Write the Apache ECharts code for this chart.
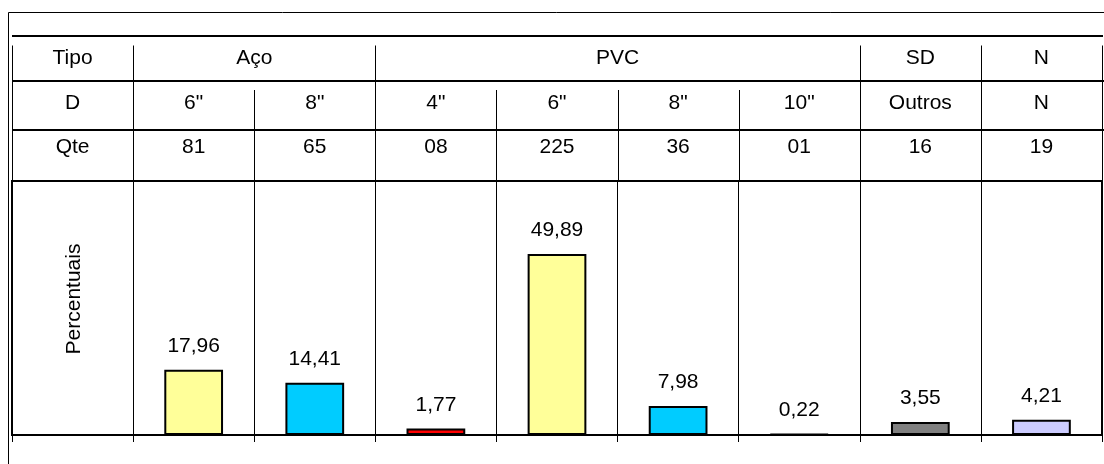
<!DOCTYPE html>
<html>
<head>
<meta charset="utf-8">
<title>Percentuais por tipo e diâmetro</title>
<script src="https://cdn.jsdelivr.net/npm/echarts@6/dist/echarts.min.js"></script>
<style>
  html, body { margin: 0; padding: 0; background: #ffffff; }
  #chart { width: 1104px; height: 464px; }
</style>
</head>
<body>
<div id="chart"></div>
<script>
// Material groups (Tipo) and how many diameter columns each one spans
const tipoNomes = ['Aço', 'PVC', 'SD', 'N'];
const tipoSpans = [2, 4, 1, 1];
// Diameter row (D)
const diametros = ['6"', '8"', '4"', '6"', '8"', '10"', 'Outros', 'N'];
// Quantity row (Qte), kept as printed
const quantidades = ['81', '65', '08', '225', '36', '01', '16', '19'];
// Percentages drawn as bars
const percentuais = [17.96, 14.41, 1.77, 49.89, 7.98, 0.22, 3.55, 4.21];
// Fill colour of each bar
const coresBarras = ['#FFFF99', '#00CCFF', '#FF0000', '#FFFF99', '#00CCFF', '#000000', '#808080', '#CCCCFF'];
// Row titles of the header table and the value axis title
const rotulosLinhas = ['Tipo', 'D', 'Qte'];
const tituloValores = 'Percentuais';

const FONT = '"Liberation Sans", Arial, Helvetica, sans-serif';
const FONT_SIZE = 21;

// One category per table column: first column holds the row titles
const categorias = ['rotulo'].concat(diametros.map((d, i) => 'c' + i));
const valoresSerie = ['-'].concat(percentuais.map((v, i) => ({
  value: v,
  itemStyle: { color: coresBarras[i] }
})));

const chart = echarts.init(document.getElementById('chart'), null, { renderer: 'canvas' });

const option = {
  animation: false,
  backgroundColor: '#ffffff',
  grid: {
    left: 12, right: 2, top: 181, bottom: 29,
    show: true, borderColor: '#000000', borderWidth: 2,
    containLabel: false
  },
  xAxis: {
    type: 'category',
    data: categorias,
    boundaryGap: true,
    axisLine: { show: true, lineStyle: { color: '#000000', width: 2 } },
    axisTick: { show: true, length: 7, lineStyle: { color: '#000000', width: 1 } },
    axisLabel: { show: false },
    splitLine: { show: true, lineStyle: { color: '#000000', width: 1 } }
  },
  yAxis: {
    type: 'value',
    min: 0,
    max: 70,
    axisLine: { show: false },
    axisTick: { show: false },
    axisLabel: { show: false },
    splitLine: { show: false }
  },
  series: [{
    type: 'bar',
    data: valoresSerie,
    barWidth: '48.5%',
    itemStyle: { borderColor: '#000000', borderWidth: 2 },
    label: {
      show: true,
      position: 'top',
      distance: 13,
      color: '#000000',
      fontFamily: FONT,
      fontSize: FONT_SIZE,
      formatter: p => p.value.toFixed(2).replace('.', ',')
    }
  }]
};

chart.setOption(option);

// Header table above the plot, aligned with the category bands
function desenharTabela() {
  const x0 = chart.convertToPixel({ xAxisIndex: 0 }, 0);
  const x1 = chart.convertToPixel({ xAxisIndex: 0 }, 1);
  const banda = x1 - x0;
  const borda = k => x0 - banda / 2 + k * banda;   // column boundary k (0..9)
  const centro = i => x0 + i * banda;              // column centre i (0..8)
  const nCols = categorias.length;

  const yTopo = 36, yLinha1 = 81, yLinha2 = 130, yPlot = 181;
  const yTexto = [58, 103.5, 147];
  const els = [];

  // Outer frame, wider than the canvas so only its top and left edges show
  els.push({
    type: 'rect', silent: true,
    shape: { x: 8.5, y: 12.5, width: 1200, height: 600 },
    style: { fill: null, stroke: '#000000', lineWidth: 1 }
  });

  // Horizontal rules of the table
  [[yTopo, borda(nCols) + 1], [yLinha1, 1104], [yLinha2, 1104]].forEach(([y, xf]) => {
    els.push({
      type: 'line', silent: true,
      shape: { x1: borda(0), y1: y, x2: xf, y2: y },
      style: { stroke: '#000000', lineWidth: 2 }
    });
  });

  // Vertical rules: group boundaries start in the Tipo row, the rest in the D row
  const limitesGrupo = [0, 1];
  let acc = 1;
  tipoSpans.forEach(s => { acc += s; limitesGrupo.push(acc); });
  for (let k = 0; k <= nCols; k++) {
    const inicio = limitesGrupo.includes(k) ? yTopo + 9.5 : yLinha1 + 9;
    const x = Math.round(borda(k)) + 0.5;
    els.push({
      type: 'line', silent: true,
      shape: { x1: x, y1: inicio, x2: x, y2: yPlot },
      style: { stroke: '#000000', lineWidth: 1 }
    });
  }

  const texto = (t, x, y, rot) => ({
    type: 'text', silent: true,
    x: x, y: y, rotation: rot || 0,
    style: {
      text: t, fill: '#000000',
      font: FONT_SIZE + 'px ' + FONT,
      align: 'center', verticalAlign: 'middle'
    }
  });

  // Row titles
  rotulosLinhas.forEach((r, j) => els.push(texto(r, centro(0), yTexto[j])));

  // Tipo row: one label per group, centred over its span
  let col = 1;
  tipoNomes.forEach((nome, g) => {
    const xa = borda(col), xb = borda(col + tipoSpans[g]);
    els.push(texto(nome, (xa + xb) / 2, yTexto[0]));
    col += tipoSpans[g];
  });

  // D and Qte rows
  diametros.forEach((d, i) => els.push(texto(d, centro(i + 1), yTexto[1])));
  quantidades.forEach((q, i) => els.push(texto(q, centro(i + 1), yTexto[2])));

  // Value axis title, written upwards in the first column
  els.push(texto(tituloValores, centro(0) + 2, 299, Math.PI / 2));

  chart.setOption({ graphic: { elements: els } });
}

desenharTabela();
</script>
</body>
</html>
